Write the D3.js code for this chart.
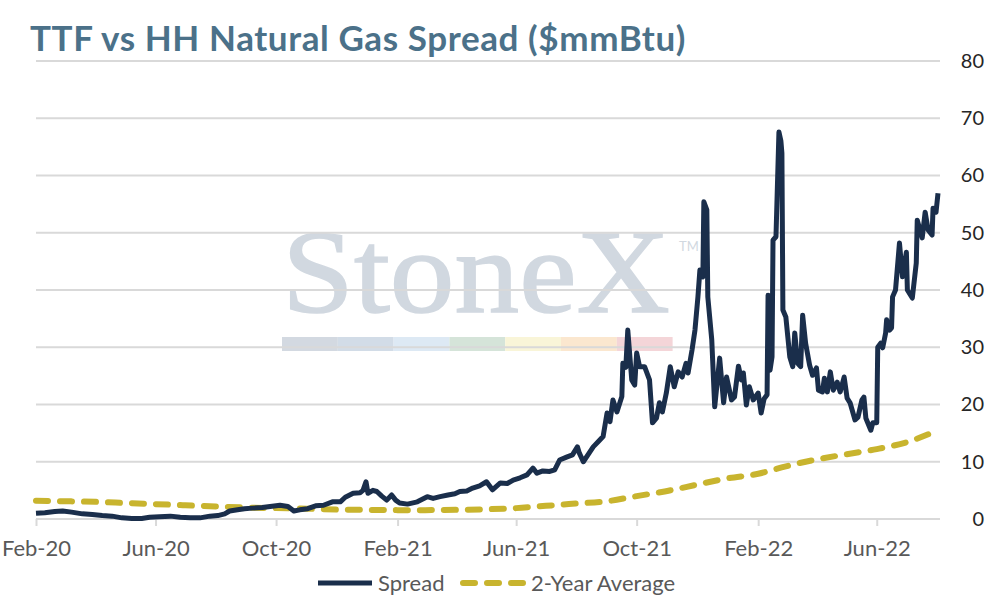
<!DOCTYPE html>
<html>
<head>
<meta charset="utf-8">
<script src="https://cdn.jsdelivr.net/npm/d3@7"></script>
<style>
  html, body { margin: 0; padding: 0; background: #fff; }
  svg { display: block; font-family: Lato, "Open Sans", sans-serif; }
</style>
</head>
<body>
<div id="chart"></div>
<script>
// TTF minus Henry Hub spread, $/mmBtu
var spreadDates = [
  "2020-02-01","2020-02-10","2020-02-20","2020-02-28","2020-03-08","2020-03-19","2020-03-29","2020-04-08",
  "2020-04-18","2020-04-28","2020-05-08","2020-05-18","2020-05-26","2020-06-05","2020-06-16","2020-06-26",
  "2020-07-06","2020-07-16","2020-07-26","2020-08-03","2020-08-10","2020-08-15","2020-08-23","2020-08-30",
  "2020-09-07","2020-09-17","2020-09-25","2020-10-05","2020-10-13","2020-10-19","2020-10-25","2020-11-02",
  "2020-11-10","2020-11-18","2020-11-27","2020-12-05","2020-12-10","2020-12-18","2020-12-25","2020-12-28",
  "2020-12-31","2021-01-02","2021-01-07","2021-01-11","2021-01-16","2021-01-21","2021-01-26","2021-01-30",
  "2021-02-03","2021-02-11","2021-02-21","2021-03-03","2021-03-09","2021-03-16","2021-03-24","2021-03-31",
  "2021-04-05","2021-04-12","2021-04-18","2021-04-25","2021-05-02","2021-05-08","2021-05-16","2021-05-23",
  "2021-05-29","2021-06-05","2021-06-12","2021-06-18","2021-06-22","2021-06-28","2021-07-05","2021-07-10",
  "2021-07-15","2021-07-22","2021-07-28","2021-08-02","2021-08-04","2021-08-08","2021-08-13","2021-08-18",
  "2021-08-23","2021-08-28","2021-09-01","2021-09-04","2021-09-07","2021-09-11","2021-09-16","2021-09-17",
  "2021-09-20","2021-09-22","2021-09-26","2021-09-29","2021-10-01","2021-10-04","2021-10-09","2021-10-14",
  "2021-10-17","2021-10-21","2021-10-24","2021-10-27","2021-10-31","2021-11-04","2021-11-08","2021-11-12",
  "2021-11-16","2021-11-20","2021-11-22","2021-11-26","2021-11-29","2021-12-02","2021-12-04","2021-12-07",
  "2021-12-08","2021-12-11","2021-12-12","2021-12-16","2021-12-19","2021-12-24","2021-12-28","2021-12-31",
  "2022-01-05","2022-01-08","2022-01-12","2022-01-15","2022-01-17","2022-01-20","2022-01-23","2022-01-27",
  "2022-02-01","2022-02-04","2022-02-07","2022-02-10","2022-02-11","2022-02-13","2022-02-15","2022-02-16",
  "2022-02-19","2022-02-22","2022-02-24","2022-02-25","2022-02-26","2022-03-01","2022-03-03","2022-03-05",
  "2022-03-08","2022-03-10","2022-03-13","2022-03-16","2022-03-18","2022-03-21","2022-03-25","2022-03-28",
  "2022-04-01","2022-04-03","2022-04-07","2022-04-09","2022-04-12","2022-04-15","2022-04-18","2022-04-22",
  "2022-04-25","2022-04-29","2022-05-02","2022-05-05","2022-05-10","2022-05-13","2022-05-17","2022-05-19",
  "2022-05-21","2022-05-26","2022-05-28","2022-06-01","2022-06-02","2022-06-05","2022-06-07","2022-06-10",
  "2022-06-11","2022-06-14","2022-06-16","2022-06-17","2022-06-20","2022-06-24","2022-06-27","2022-07-01",
  "2022-07-02","2022-07-07","2022-07-11","2022-07-12","2022-07-17","2022-07-20","2022-07-23","2022-07-27",
  "2022-07-28","2022-07-31","2022-08-02"
];
var spreadValues = [
  1.0, 1.1, 1.3, 1.4, 1.2, 0.9, 0.8, 0.6,
  0.5, 0.2, 0.1, 0.1, 0.3, 0.4, 0.5, 0.3,
  0.2, 0.2, 0.5, 0.6, 0.9, 1.4, 1.6, 1.8,
  1.9, 2.0, 2.2, 2.4, 2.2, 1.4, 1.6, 1.8,
  2.3, 2.4, 3.0, 3.0, 3.8, 4.5, 4.6, 5.0,
  6.5, 4.5, 5.0, 4.8, 4.0, 3.3, 4.2, 3.3,
  2.8, 2.6, 3.0, 3.9, 3.6, 3.9, 4.2, 4.4,
  4.8, 4.9, 5.4, 5.8, 6.5, 5.1, 6.3, 6.2,
  6.8, 7.2, 7.7, 8.9, 8.0, 8.4, 8.3, 8.6,
  10.3, 10.8, 11.2, 12.6, 11.5, 10.0, 11.3, 12.6,
  13.5, 14.4, 18.5, 17.0, 20.8, 18.7, 21.4, 27.2,
  26.5, 33.0, 24.3, 23.4, 29.0, 26.6, 26.6, 24.3,
  16.8, 17.6, 20.3, 18.7, 22.0, 26.6, 23.1, 25.7,
  24.8, 27.2, 25.5, 29.5, 33.0, 38.8, 43.5, 42.3,
  55.4, 54.0, 38.8, 31.3, 19.6, 28.1, 20.3, 24.8,
  20.8, 21.3, 26.7, 24.3, 25.5, 19.9, 23.1, 20.8,
  22.0, 18.5, 21.0, 21.7, 39.1, 26.0, 28.3, 48.7,
  49.3, 67.6, 66.0, 63.9, 36.5, 35.3, 31.8, 28.3,
  26.6, 32.5, 27.2, 26.6, 35.6, 30.7, 26.9, 25.1,
  26.4, 22.5, 22.2, 24.6, 22.2, 25.7, 22.5, 23.9,
  22.2, 24.8, 21.1, 20.3, 17.3, 17.8, 20.8, 21.3,
  17.6, 15.5, 16.8, 16.8, 30.0, 30.7, 29.9, 32.5,
  34.8, 33.0, 33.4, 38.8, 40.0, 48.2, 42.3, 46.6,
  40.0, 38.6, 44.7, 52.2, 49.1, 53.6, 50.5, 49.6,
  54.3, 53.6, 56.9
];

// 2-year moving average
var avgDates = [
  "2020-02-01","2020-03-01","2020-04-01","2020-05-01","2020-06-01","2020-07-01","2020-08-01","2020-09-01",
  "2020-10-01","2020-11-01","2020-12-01","2021-01-01","2021-02-01","2021-03-01","2021-04-01","2021-05-01",
  "2021-06-01","2021-07-01","2021-08-01","2021-09-01","2021-10-01","2021-11-01","2021-12-01","2022-01-01",
  "2022-02-01","2022-03-01","2022-04-01","2022-05-01","2022-06-01","2022-07-01","2022-08-02"
];
var avgValues = [
  3.2, 3.1, 3.0, 2.8, 2.6, 2.4, 2.2, 2.0,
  1.9, 1.8, 1.65, 1.6, 1.55, 1.55, 1.6, 1.7,
  1.9, 2.3, 2.7, 3.1, 4.0, 4.9, 6.0, 7.1,
  7.9, 9.2, 10.4, 11.3, 12.2, 13.4, 15.5
];

var tickDates = ["2020-02-01","2020-06-01","2020-10-01","2021-02-01","2021-06-01","2021-10-01","2022-02-01","2022-06-01"];
var tickLabels = ["Feb-20","Jun-20","Oct-20","Feb-21","Jun-21","Oct-21","Feb-22","Jun-22"];
var yTicks = [0, 10, 20, 30, 40, 50, 60, 70, 80];
var seriesNames = ["Spread", "2-Year Average"];

var parse = d3.timeParse("%Y-%m-%d");

var width = 994, height = 600;
var plotLeft = 36, plotRight = 938, plotTop = 61, plotBottom = 519;

var svg = d3.select("#chart").append("svg")
  .attr("width", width)
  .attr("height", height);

var x = d3.scaleTime()
  .domain([parse(spreadDates[0]), parse(spreadDates[spreadDates.length - 1])])
  .range([plotLeft, plotRight]);
var y = d3.scaleLinear().domain([0, 80]).range([plotBottom, plotTop]);

// watermark
var wm = svg.append("g").attr("class", "watermark");
wm.append("text")
  .attr("x", 282).attr("y", 312)
  .attr("font-family", "'Liberation Serif', 'DejaVu Serif', serif")
  .attr("font-size", 118)
  .attr("stroke", "#d1d8e0")
  .attr("stroke-width", 1.5)
  .attr("textLength", 388)
  .attr("lengthAdjust", "spacingAndGlyphs")
  .attr("fill", "#d1d8e0")
  .text("StoneX");
wm.append("text")
  .attr("x", 679).attr("y", 251)
  .attr("font-size", 13)
  .attr("fill", "#d1d8e0")
  .text("TM");
var bandColors = ["#d3d9e1", "#d2dce7", "#dde9f4", "#d5e4d9", "#f9f5d8", "#fbe7cf", "#f4d5d8"];
for (var i = 0; i < bandColors.length; i++) {
  wm.append("rect")
    .attr("x", 282 + i * 55.8)
    .attr("y", 337)
    .attr("width", 55.8)
    .attr("height", 14)
    .attr("fill", bandColors[i]);
}

// gridlines
svg.append("g").selectAll("line")
  .data(yTicks.filter(function(d) { return d > 0; }))
  .join("line")
  .attr("x1", plotLeft).attr("x2", 940)
  .attr("y1", function(d) { return y(d); })
  .attr("y2", function(d) { return y(d); })
  .attr("stroke", "#d9d9d9")
  .attr("stroke-width", 2);

// x axis
var xAxis = svg.append("g")
  .attr("transform", "translate(0," + plotBottom + ")")
  .call(d3.axisBottom(x)
    .tickValues(tickDates.map(parse))
    .tickFormat(function(d, i) { return tickLabels[i]; })
    .tickSizeInner(7)
    .tickSizeOuter(0)
    .tickPadding(14));
xAxis.select(".domain").attr("stroke", "#d9d9d9").attr("stroke-width", 2)
  .attr("d", "M" + plotLeft + ",0H940");
xAxis.selectAll(".tick line").attr("stroke", "#d9d9d9").attr("stroke-width", 2);
xAxis.selectAll("text")
  .attr("font-family", "Lato, sans-serif")
  .attr("font-size", 22)
  .attr("fill", "#595959");

// y axis (right side)
var yAxis = svg.append("g")
  .attr("transform", "translate(984,0)")
  .call(d3.axisRight(y).tickValues(yTicks).tickSize(0).tickPadding(0));
yAxis.select(".domain").remove();
yAxis.selectAll("text")
  .attr("text-anchor", "end")
  .attr("font-family", "Lato, sans-serif")
  .attr("font-size", 20)
  .attr("fill", "#262626");

// lines
var spreadData = spreadDates.map(function(d, i) { return { date: parse(d), value: spreadValues[i] }; });
var avgData = avgDates.map(function(d, i) { return { date: parse(d), value: avgValues[i] }; });

var avgLine = d3.line()
  .x(function(d) { return x(d.date); })
  .y(function(d) { return y(d.value); })
  .curve(d3.curveMonotoneX);
var spreadLine = d3.line()
  .x(function(d) { return x(d.date); })
  .y(function(d) { return y(d.value); });

svg.append("path")
  .datum(avgData)
  .attr("d", avgLine)
  .attr("fill", "none")
  .attr("stroke", "#c8b42e")
  .attr("stroke-width", 6)
  .attr("stroke-linecap", "round")
  .attr("stroke-dasharray", "12 12");

svg.append("path")
  .datum(spreadData)
  .attr("d", spreadLine)
  .attr("fill", "none")
  .attr("stroke", "#1a2e4b")
  .attr("stroke-width", 5)
  .attr("stroke-linejoin", "round");

// title
svg.append("text")
  .attr("x", 30).attr("y", 51)
  .attr("font-family", "Lato, sans-serif")
  .attr("font-weight", 700)
  .attr("font-size", 35)
  .attr("letter-spacing", 0.6)
  .attr("fill", "#4b7189")
  .text("TTF vs HH Natural Gas Spread ($mmBtu)");

// legend
var legend = svg.append("g").attr("transform", "translate(0,583)");
legend.append("line")
  .attr("x1", 318).attr("x2", 372)
  .attr("stroke", "#1a2e4b").attr("stroke-width", 5);
legend.append("text")
  .attr("x", 378).attr("y", 8)
  .attr("font-size", 22).attr("fill", "#595959")
  .text(seriesNames[0]);
legend.append("line")
  .attr("x1", 463).attr("x2", 523)
  .attr("stroke", "#c8b42e").attr("stroke-width", 6)
  .attr("stroke-linecap", "round")
  .attr("stroke-dasharray", "12 12");
legend.append("text")
  .attr("x", 531).attr("y", 8)
  .attr("font-size", 22).attr("fill", "#595959")
  .text(seriesNames[1]);
</script>
</body>
</html>
